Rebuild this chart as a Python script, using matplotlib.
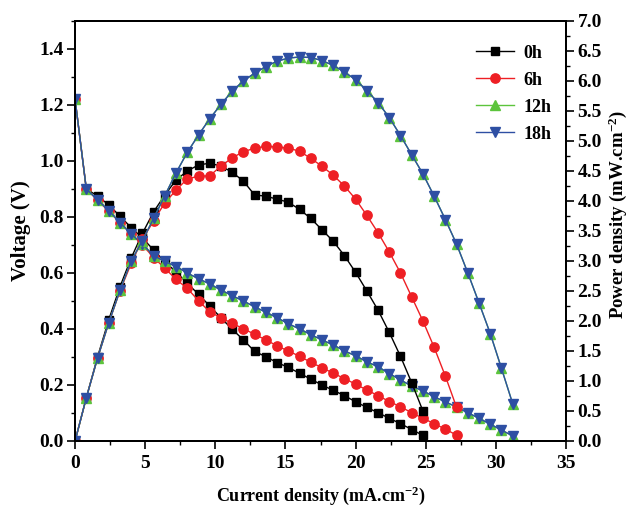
import matplotlib
matplotlib.use("Agg")
import matplotlib.pyplot as plt
from matplotlib.ticker import MultipleLocator

plt.rcParams['font.family'] = ['Liberation Serif', 'DejaVu Serif']
plt.rcParams['font.weight'] = 'bold'
plt.rcParams['mathtext.fontset'] = 'custom'
plt.rcParams['mathtext.rm'] = 'Liberation Serif:bold'
plt.rcParams['mathtext.default'] = 'rm'

# current density (mA/cm2)
current = [0.0, 0.8, 1.6, 2.4, 3.2, 4.0, 4.8, 5.6, 6.4, 7.2, 8.0, 8.8, 9.6, 10.4,
           11.2, 12.0, 12.8, 13.6, 14.4, 15.2, 16.0, 16.8, 17.6, 18.4, 19.2, 20.0,
           20.8, 21.6, 22.4, 23.2, 24.0, 24.8, 25.6, 26.4, 27.2, 28.0, 28.8, 29.6,
           30.4, 31.2]

# voltage (V)
v_0h = [1.22, 0.90, 0.875, 0.843, 0.803, 0.762, 0.725, 0.682, 0.640, 0.604, 0.563,
        0.524, 0.482, 0.440, 0.399, 0.361, 0.320, 0.301, 0.280, 0.263, 0.242, 0.221,
        0.200, 0.181, 0.162, 0.140, 0.120, 0.101, 0.081, 0.062, 0.041, 0.020]
v_6h = [1.22, 0.90, 0.86, 0.82, 0.78, 0.74, 0.70, 0.655, 0.617, 0.577, 0.545, 0.501,
        0.461, 0.440, 0.420, 0.401, 0.381, 0.361, 0.340, 0.321, 0.303, 0.281, 0.262,
        0.242, 0.223, 0.203, 0.182, 0.162, 0.141, 0.122, 0.101, 0.081, 0.062, 0.042,
        0.021]
v_12h = [1.22, 0.90, 0.861, 0.823, 0.780, 0.739, 0.703, 0.662, 0.641, 0.623, 0.600,
         0.579, 0.561, 0.539, 0.519, 0.500, 0.479, 0.460, 0.440, 0.419, 0.400, 0.380,
         0.361, 0.343, 0.322, 0.304, 0.283, 0.265, 0.241, 0.218, 0.196, 0.179, 0.158,
         0.140, 0.121, 0.101, 0.081, 0.060, 0.039, 0.018]
v_18h = [1.22, 0.90, 0.861, 0.823, 0.780, 0.739, 0.703, 0.662, 0.641, 0.623, 0.600,
         0.579, 0.561, 0.539, 0.519, 0.500, 0.479, 0.460, 0.440, 0.419, 0.400, 0.380,
         0.361, 0.343, 0.322, 0.304, 0.283, 0.265, 0.241, 0.218, 0.196, 0.179, 0.158,
         0.140, 0.121, 0.101, 0.081, 0.060, 0.039, 0.018]

# power density (mW/cm2)
p_0h = [0.0, 0.72, 1.40, 2.02, 2.57, 3.05, 3.46, 3.82, 4.10, 4.35, 4.50, 4.60, 4.63,
        4.58, 4.48, 4.33, 4.10, 4.08, 4.03, 3.98, 3.86, 3.71, 3.52, 3.33, 3.09, 2.81,
        2.50, 2.18, 1.81, 1.41, 0.97, 0.50]
p_6h = [0.0, 0.72, 1.38, 1.97, 2.50, 2.96, 3.36, 3.67, 3.97, 4.18, 4.37, 4.41, 4.42,
        4.58, 4.72, 4.82, 4.88, 4.91, 4.90, 4.88, 4.83, 4.71, 4.58, 4.43, 4.25, 4.03,
        3.76, 3.47, 3.15, 2.80, 2.40, 2.00, 1.56, 1.08, 0.56]
p_12h = [0.0, 0.72, 1.38, 1.97, 2.51, 3.00, 3.34, 3.71, 4.09, 4.47, 4.81, 5.10, 5.37,
         5.61, 5.83, 6.00, 6.13, 6.24, 6.33, 6.38, 6.40, 6.39, 6.34, 6.26, 6.15, 6.02,
         5.84, 5.64, 5.39, 5.09, 4.77, 4.45, 4.08, 3.69, 3.28, 2.80, 2.30, 1.79, 1.21,
         0.62]
p_18h = [0.0, 0.72, 1.38, 1.97, 2.51, 3.00, 3.34, 3.71, 4.09, 4.47, 4.81, 5.10, 5.37,
         5.61, 5.83, 6.00, 6.13, 6.24, 6.33, 6.38, 6.40, 6.39, 6.34, 6.26, 6.15, 6.02,
         5.84, 5.64, 5.39, 5.09, 4.77, 4.45, 4.08, 3.69, 3.28, 2.80, 2.30, 1.79, 1.21,
         0.62]

labels = ['0h', '6h', '12h', '18h']
volts = [v_0h, v_6h, v_12h, v_18h]
powers = [p_0h, p_6h, p_12h, p_18h]
colors = ['#000000', '#ee1f24', '#5cc43c', '#2e4fa3']
markers = ['s', 'o', '^', 'v']
msizes = [5.3, 6.7, 6.5, 6.5]

fig = plt.figure(figsize=(6.31, 5.11), dpi=100)
ax = fig.add_axes([0.119, 0.137, 0.778, 0.822])
ax2 = ax.twinx()

for lab, v, p, c, m, ms in zip(labels, volts, powers, colors, markers, msizes):
    ax.plot(current[:len(v)], v, color=c, marker=m, ms=ms, lw=1.0, mec=c)
    ax2.plot(current[:len(p)], p, color=c, marker=m, ms=ms, lw=1.0, mec=c, label=lab)

ax.set_xlim(0, 35)
ax.set_ylim(0, 1.5)
ax2.set_ylim(0, 7.0)

ax.xaxis.set_major_locator(MultipleLocator(5))
ax.xaxis.set_minor_locator(MultipleLocator(2.5))
ax.yaxis.set_major_locator(MultipleLocator(0.2))
ax.yaxis.set_minor_locator(MultipleLocator(0.1))
ax2.yaxis.set_major_locator(MultipleLocator(0.5))
ax2.yaxis.set_minor_locator(MultipleLocator(0.25))

ax.set_yticks([0.0, 0.2, 0.4, 0.6, 0.8, 1.0, 1.2, 1.4])
ax.set_yticklabels(['0.0', '0.2', '0.4', '0.6', '0.8', '1.0', '1.2', '1.4'])
ax2.set_yticklabels([f'{t:.1f}' for t in ax2.get_yticks()])

for a in (ax, ax2):
    a.tick_params(which='major', direction='out', length=5.8, width=1.2, labelsize=14, pad=2.5)
    a.tick_params(which='minor', direction='out', length=3, width=1.0)
    for s in a.spines.values():
        s.set_linewidth(1.4)
ax.tick_params(axis='x', which='both', top=False, pad=4)

ax.set_xlabel(r'Current density (mA.cm$^{-2}$)', fontsize=13, fontweight='bold', labelpad=9)
ax.set_ylabel('Voltage (V)', fontsize=15, fontweight='bold', labelpad=6)
ax2.set_ylabel(r'Power density (mW.cm$^{-2}$)', fontsize=13.5, fontweight='bold', labelpad=3)
ax2.yaxis.label.set_y(0.54)

leg = ax2.legend(loc='upper right', bbox_to_anchor=(1.003, 0.982), frameon=False,
                 fontsize=13, handlelength=2.1, labelspacing=0.55, handletextpad=0.5)

fig.savefig('out.png', dpi=100, facecolor='white')
